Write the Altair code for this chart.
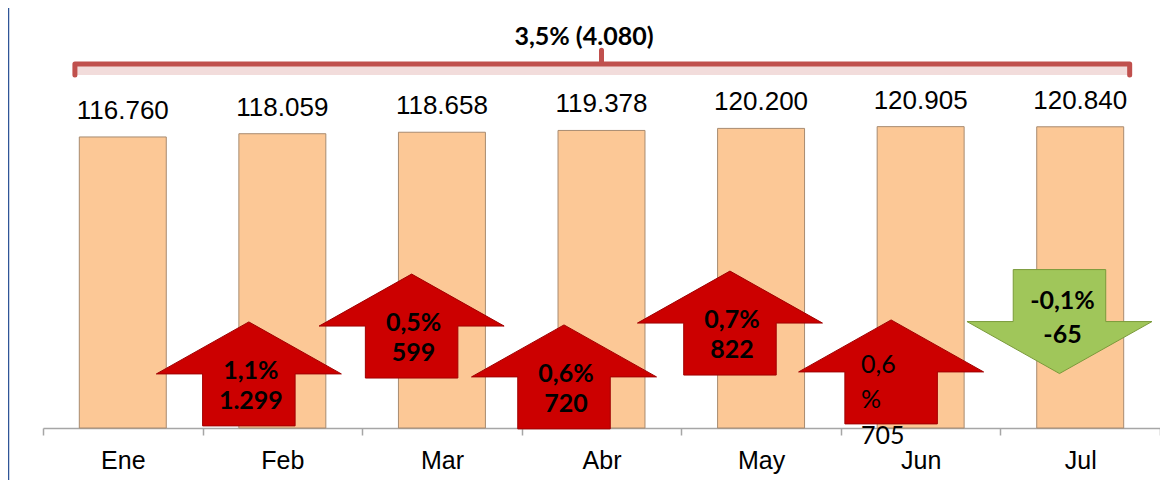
import altair as alt
import pandas as pd

# ---- chart values ----
months = ["Ene", "Feb", "Mar", "Abr", "May", "Jun", "Jul"]
values = [116760, 118059, 118658, 119378, 120200, 120905, 120840]
value_labels = ["116.760", "118.059", "118.658", "119.378", "120.200", "120.905", "120.840"]

change_months = ["Feb", "Mar", "Abr", "May", "Jun", "Jul"]
change_pct = ["1,1%", "0,5%", "0,6%", "0,7%", "0,6%", "-0,1%"]
change_abs = ["1.299", "599", "720", "822", "705", "-65"]
total_label = "3,5% (4.080)"

# ---- annotation anchors (x in month-slot units, y in data units) ----
arrow_x = [1.29, 2.31, 3.265, 4.305, 5.315, 6.37]
arrow_y = [21700, 40900, 20500, 42100, 22500, 42700]
bracket_x = [0.2, 0.2, 3.5, 3.5, 3.5, 6.81, 6.81]
bracket_y = [141600, 146000, 146000, 151600, 146000, 146000, 141600]
bracket_span = [0.2, 6.81]
bracket_fill_y = [141600, 145300]
title_pos = [3.39, 153700]

W, H = 1117, 420
YMAX = 168500

bars_df = pd.DataFrame({"month": months, "value": values, "label": value_labels})
arr_df = pd.DataFrame({
    "month": change_months,
    "ax": arrow_x,
    "ay": arrow_y,
    "pct": change_pct,
    "abs": change_abs,
})
arr_df["dir"] = ["down" if p.startswith("-") else "up" for p in change_pct]
arr_df["plain"] = [m == "Jun" for m in change_months]
arr_df["multi"] = [p.replace("%", "") + "\n%\n" + a for p, a in zip(change_pct, change_abs)]

br_df = pd.DataFrame({"bx": bracket_x, "by": bracket_y, "i": list(range(len(bracket_x)))})
brf_df = pd.DataFrame({"bx": [bracket_span[0]], "bx2": [bracket_span[1]],
                       "by": [bracket_fill_y[0]], "by2": [bracket_fill_y[1]]})
title_df = pd.DataFrame({"tx": [title_pos[0]], "ty": [title_pos[1]], "t": [total_label]})

yscale = alt.Scale(domain=[0, YMAX], nice=False, zero=True)
band = alt.Scale(paddingInner=0, paddingOuter=0)
hscale = alt.Scale(domain=[0, 7], nice=False, zero=False)

x_axis = alt.X(
    "month:N", sort=months, scale=band,
    axis=alt.Axis(title=None, labelAngle=0, labelFont="Liberation Sans", labelFontSize=25,
                  labelColor="#000000", labelPadding=13, tickBand="extent", tickSize=7,
                  tickColor="#A6A6A6", tickWidth=1.5, domainColor="#A6A6A6", domainWidth=1.5),
)
x_plain = alt.X("month:N", sort=months, scale=band, axis=None)

bars = alt.Chart(bars_df).mark_bar(
    color="#FCC896", stroke="#A88B70", strokeWidth=1, width=alt.RelativeBandSize(0.545)
).encode(x=x_axis, y=alt.Y("value:Q", scale=yscale, axis=None))
labels = alt.Chart(bars_df).mark_text(
    baseline="alphabetic", dy=-18, font="Liberation Sans", fontSize=26, color="#000000"
).encode(x=x_plain, y=alt.Y("value:Q", scale=yscale, axis=None), text="label:N")

hx = lambda f: alt.X(f, scale=hscale, axis=None)

bracket_fill = alt.Chart(brf_df).mark_rect(color="#F2DCDB").encode(
    x=hx("bx:Q"), x2="bx2:Q", y=alt.Y("by:Q", scale=yscale, axis=None), y2="by2:Q"
)
bracket = alt.Chart(br_df).mark_line(
    color="#C0504D", strokeWidth=5, strokeJoin="round", strokeCap="round"
).encode(x=hx("bx:Q"), y=alt.Y("by:Q", scale=yscale, axis=None), order="i:Q")
title = alt.Chart(title_df).mark_text(
    baseline="alphabetic", align="center", font="Lato", fontWeight="bold", fontSize=25, color="#000000"
).encode(x=hx("tx:Q"), y=alt.Y("ty:Q", scale=yscale, axis=None), text="t:N")

up_path = "M0,-0.562L1,0L0.5,0L0.5,0.562L-0.5,0.562L-0.5,0L-1,0Z"
down_path = "M-0.5,-0.562L0.5,-0.562L0.5,0L1,0L0,0.562L-1,0L-0.5,0Z"
ay = alt.Y("ay:Q", scale=yscale, axis=None)

arrows_up = alt.Chart(arr_df).transform_filter("datum.dir == 'up'").mark_point(
    shape=up_path, size=185 * 185, filled=True, fill="#CC0000", stroke="#A00000",
    strokeWidth=1, opacity=1
).encode(x=hx("ax:Q"), y=ay)
arrows_down = alt.Chart(arr_df).transform_filter("datum.dir == 'down'").mark_point(
    shape=down_path, size=185 * 185, filled=True, fill="#A0C65A", stroke="#7A9A3A",
    strokeWidth=1, opacity=1
).encode(x=hx("ax:Q"), y=ay)

bold = dict(font="Lato", fontWeight="bold", fontSize=25, color="#000000", baseline="alphabetic", align="center")
up_bold = "datum.dir == 'up' && !datum.plain"
t_up1 = alt.Chart(arr_df).transform_filter(up_bold).mark_text(dy=5, dx=2, **bold).encode(
    x=hx("ax:Q"), y=ay, text="pct:N")
t_up2 = alt.Chart(arr_df).transform_filter(up_bold).mark_text(dy=35, dx=2, **bold).encode(
    x=hx("ax:Q"), y=ay, text="abs:N")
t_dn1 = alt.Chart(arr_df).transform_filter("datum.dir == 'down'").mark_text(dy=-13, dx=3, **bold).encode(
    x=hx("ax:Q"), y=ay, text="pct:N")
t_dn2 = alt.Chart(arr_df).transform_filter("datum.dir == 'down'").mark_text(dy=21, dx=3, **bold).encode(
    x=hx("ax:Q"), y=ay, text="abs:N")
t_plain = alt.Chart(arr_df).transform_filter("datum.plain").mark_text(
    font="Lato", fontSize=25, color="#000000", baseline="alphabetic", align="left",
    dx=-30, dy=1, lineBreak="\n", lineHeight=35.5
).encode(x=hx("ax:Q"), y=ay, text="multi:N")

edge = alt.Chart(pd.DataFrame({"k": [0]})).mark_rule(color="#2F5597", strokeWidth=1.5).encode(
    x=alt.value(-34.5), y=alt.value(0), y2=alt.value(475)
)

chart = alt.layer(
    bars, labels, bracket_fill, bracket, title,
    arrows_up, arrows_down, t_up1, t_up2, t_dn1, t_dn2, t_plain, edge
).resolve_scale(x="independent").properties(
    width=W, height=H,
    padding={"left": 35, "top": 0, "right": 0, "bottom": 52},
    autosize=alt.AutoSizeParams(type="none"),
).configure_view(stroke=None)

chart.save("out.html", embed_options={"renderer": "svg", "actions": False})
